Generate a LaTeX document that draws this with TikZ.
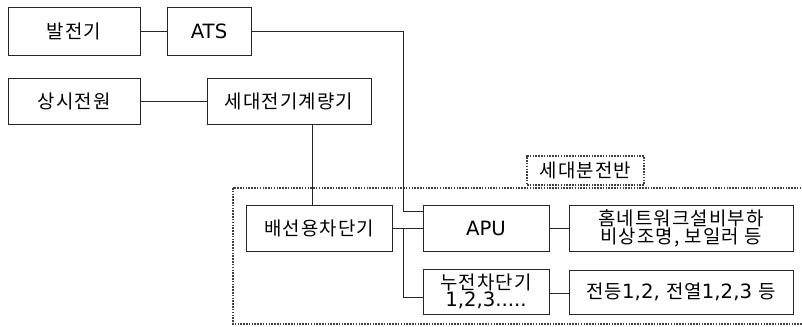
\documentclass[tikz,border=0pt]{standalone}
\usepackage{fontspec}
\setmainfont{DejaVu Sans}
\newfontfamily\kr[LetterSpace=6, Scale=0.96]{Noto Sans CJK KR}
\usepackage{tikz}

\begin{document}
\begin{tikzpicture}[x=0.025cm, y=-0.025cm,
    every node/.style={font=\fontsize{14}{16}\selectfont},
    box/.style={draw=black!85, line width=.6pt, inner sep=0pt, align=center},
    wire/.style={draw=black!85, line width=.6pt},
    dotbox/.style={draw=black!75, dash pattern=on 1.1pt off .9pt, line width=1.4pt}]
    \useasboundingbox (0, 0) rectangle (802, 327);

    % 세대분전반 area
    \draw [dotbox] (233, 188) rectangle (810, 324);
    \node [box, dotbox, minimum width=2.925cm, minimum height=.725cm] (lbl) at (585.5, 170.5) {\kr 세대분전반};

    \node [box, minimum width=3.3cm, minimum height=1.2cm] (gen) at (74, 31) {\kr 발전기};
    \node [box, minimum width=2.1cm, minimum height=1.2cm] (ats) at (209, 31) {ATS};
    \node [box, minimum width=3.3cm, minimum height=1.15cm] (src) at (74, 101) {\kr 상시전원};
    \node [box, minimum width=4.1cm, minimum height=1.15cm] (meter) at (289, 101) {\kr 세대전기계량기};

    \node [box, minimum width=3.65cm, minimum height=1.15cm] (mccb) at (319, 228) {\kr 배선용차단기};
    \node [box, minimum width=3.15cm, minimum height=1.15cm] (apu) at (486, 228) {APU};
    \node [box, minimum width=5.6cm, minimum height=1.15cm] (load1) at (681, 228)
        {\kr 홈네트워크설비부하\\[-3pt]\kr 비상조명, 보일러 등};
    \node [box, minimum width=3.15cm, minimum height=1.125cm] (elb) at (486, 291.5)
        {\kr 누전차단기\\[-4pt]1,2,3.....};
    \node [box, minimum width=5.6cm, minimum height=1.1cm] (load2) at (681, 292)
        {{\kr 전등}1,2, {\kr 전열}1,2,3 {\kr 등}};

    \coordinate (ja) at (403, 211);
    \coordinate (jb) at (403, 229);
    \coordinate (jc) at (403, 297);
    \coordinate (jm) at (312, 0);

    \draw [wire] (gen) -- (ats);
    \draw [wire] (ats.east) -| (ja) -- (ja -| apu.west);
    \draw [wire] (src) -- (meter);
    \draw [wire] (meter.south -| jm) -- (mccb.north -| jm);
    \draw [wire] (mccb) -- (apu);
    \draw [wire] (jb) -- (jc) -- (jc -| elb.west);
    \draw [wire] (apu) -- (load1);
    \draw [wire] (elb.east |- 0, 293) -- (load2.west |- 0, 293);
  \end{tikzpicture}
\end{document}
